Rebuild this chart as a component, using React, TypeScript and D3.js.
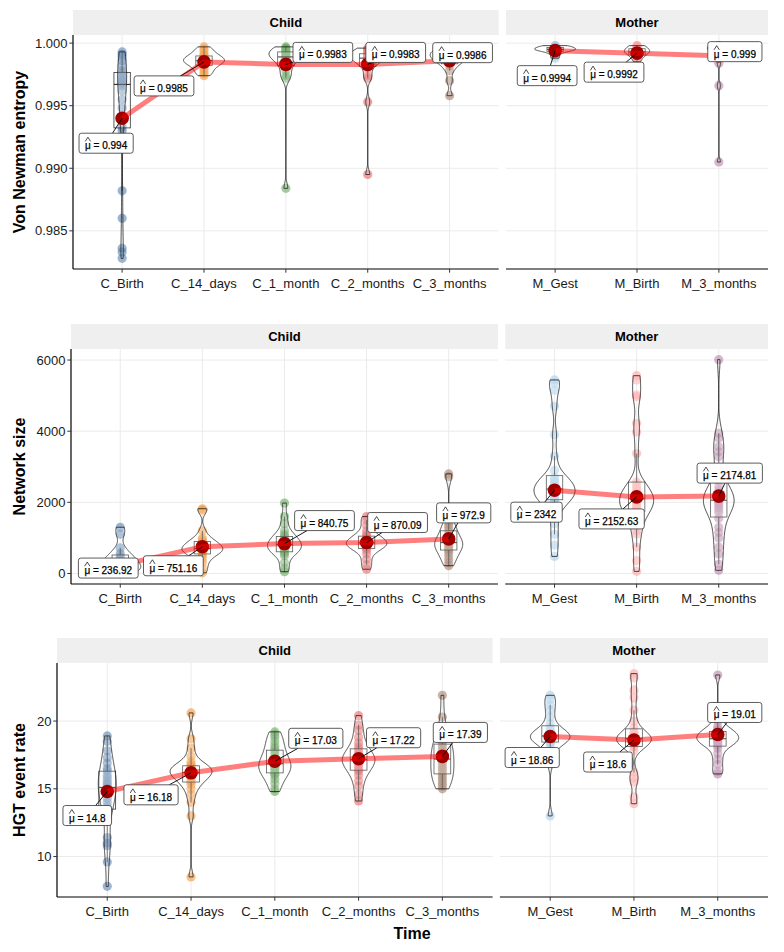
import React from 'react';
import * as d3 from 'd3';

// ---------------- DATA ----------------
const childCats = ['C_Birth', 'C_14_days', 'C_1_month', 'C_2_months', 'C_3_months'];
const motherCats = ['M_Gest', 'M_Birth', 'M_3_months'];
const facetNames = ['Child', 'Mother'];
const childColors = ['#4E79A7', '#F28E2B', '#59A14F', '#E15759', '#9C755F'];
const motherColors = ['#A0CBE8', '#FF9D9A', '#B07AA1'];

const entropyChild = [
  [0.9993, 0.9991, 0.9989, 0.9986, 0.9982, 0.9978, 0.9976, 0.9974, 0.9972, 0.997, 0.9969, 0.9968, 0.9966, 0.9962, 0.9955, 0.9948, 0.994, 0.9933, 0.993, 0.9882, 0.986, 0.9836, 0.9833, 0.9828],
  [0.9997, 0.9995, 0.9993, 0.9991, 0.999, 0.9989, 0.9988, 0.9987, 0.9986, 0.9986, 0.9985, 0.9984, 0.9983, 0.9982, 0.998, 0.9978, 0.9976, 0.9974],
  [0.9997, 0.9996, 0.9995, 0.9994, 0.9993, 0.9992, 0.9991, 0.999, 0.9989, 0.9988, 0.9987, 0.9985, 0.9982, 0.9978, 0.9974, 0.9972, 0.9884],
  [0.9996, 0.9995, 0.9994, 0.9993, 0.9992, 0.9991, 0.999, 0.999, 0.9989, 0.9988, 0.9987, 0.9986, 0.9985, 0.9983, 0.998, 0.9974, 0.9972, 0.9953, 0.9895],
  [0.9996, 0.9995, 0.9994, 0.9993, 0.9992, 0.9991, 0.999, 0.9989, 0.9988, 0.9987, 0.9986, 0.9984, 0.9982, 0.9978, 0.997, 0.9958],
];
const entropyMother = [
  [0.9998, 0.9998, 0.9997, 0.9997, 0.9996, 0.9996, 0.9995, 0.9995, 0.9995, 0.9994, 0.9994, 0.9993, 0.9992, 0.999, 0.9988],
  [0.9998, 0.9998, 0.9997, 0.9996, 0.9995, 0.9994, 0.9994, 0.9993, 0.9993, 0.9992, 0.9991, 0.999, 0.9989, 0.9987, 0.9985],
  [0.9998, 0.9998, 0.9997, 0.9997, 0.9996, 0.9996, 0.9995, 0.9994, 0.9993, 0.999, 0.9984, 0.9966, 0.9905],
];
const entropyMeans = [0.994, 0.9985, 0.9983, 0.9983, 0.9986, 0.9994, 0.9992, 0.999];
const entropyTicks = [0.985, 0.99, 0.995, 1.0];

const sizeChild = [
  [1300, 1100, 720, 560, 480, 420, 360, 300, 250, 200, 160, 120, 80, 40, 5],
  [1820, 1780, 1200, 1000, 950, 900, 850, 800, 760, 730, 700, 680, 650, 620, 580, 550, 500, 400, 300, 150, 20],
  [1980, 1600, 1400, 1200, 1100, 1050, 1000, 950, 900, 850, 820, 800, 760, 720, 680, 640, 600, 560, 500, 300, 150, 50],
  [1600, 1500, 1350, 1200, 1100, 1050, 1000, 950, 920, 890, 860, 830, 800, 770, 740, 700, 650, 550, 400, 250, 120],
  [2800, 2720, 1450, 1380, 1300, 1200, 1100, 1000, 950, 900, 870, 840, 800, 760, 700, 660, 600, 500, 400, 300, 220],
];
const sizeMother = [
  [5440, 5350, 5150, 4700, 3900, 3300, 2900, 2700, 2640, 2600, 2550, 2500, 2450, 2400, 2350, 2300, 2250, 2200, 2150, 2100, 2080, 2050, 1900, 1700, 1400, 1100, 800, 480],
  [5560, 5440, 5020, 4970, 4220, 3980, 3370, 2570, 2480, 2400, 2330, 2260, 2200, 2150, 2100, 2050, 2000, 1950, 1900, 1850, 1800, 1740, 1630, 1440, 1200, 1110, 740, 360, 60],
  [6010, 3940, 3800, 3560, 3420, 3280, 2900, 2600, 2450, 2350, 2280, 2220, 2170, 2120, 2080, 2040, 2000, 1960, 1900, 1850, 1780, 1700, 1550, 1300, 1150, 1000, 740, 550, 260, 90],
];
const sizeMeans = [236.92, 751.16, 840.75, 870.09, 972.9, 2342, 2152.63, 2174.81];
const sizeTicks = [0, 2000, 4000, 6000];

const hgtChild = [
  [18.9, 18.5, 17.8, 17.3, 16.9, 16.5, 16.3, 16.0, 15.8, 15.6, 15.4, 15.3, 15.1, 14.9, 14.6, 14.3, 14.0, 13.7, 13.5, 13.0, 11.4, 11.0, 10.8, 9.6, 7.8],
  [20.6, 18.7, 18.0, 17.4, 17.0, 16.8, 16.7, 16.6, 16.5, 16.4, 16.4, 16.3, 16.2, 16.1, 16.0, 15.9, 15.8, 15.6, 15.5, 15.3, 15.0, 14.6, 14.0, 13.0, 8.5],
  [19.2, 19.0, 18.8, 18.5, 18.2, 18.0, 17.8, 17.6, 17.4, 17.2, 17.0, 16.9, 16.8, 16.7, 16.6, 16.5, 16.4, 16.2, 16.1, 16.0, 15.7, 15.4, 15.0, 14.8],
  [20.4, 19.7, 19.3, 18.8, 18.4, 18.1, 17.9, 17.7, 17.5, 17.4, 17.3, 17.2, 17.1, 17.0, 16.9, 16.8, 16.6, 16.4, 16.3, 16.0, 15.6, 15.2, 14.6, 14.1],
  [21.9, 20.3, 19.5, 18.9, 18.6, 18.4, 18.2, 18.0, 17.8, 17.6, 17.4, 17.2, 17.0, 16.8, 16.6, 16.4, 16.2, 16.0, 15.8, 15.6, 15.4, 15.2, 15.0],
];
const hgtMother = [
  [21.9, 21.6, 21.2, 20.8, 20.3, 19.8, 19.5, 19.3, 19.2, 19.1, 19.0, 18.9, 18.9, 18.8, 18.7, 18.6, 18.5, 18.4, 18.3, 18.0, 17.5, 16.8, 13.0],
  [23.5, 23.2, 22.3, 21.7, 20.8, 20.0, 19.5, 19.2, 19.1, 19.0, 18.9, 18.8, 18.7, 18.7, 18.6, 18.5, 18.4, 18.3, 18.2, 18.1, 17.8, 16.2, 15.8, 15.5, 14.4, 13.9],
  [23.4, 20.5, 20.0, 19.6, 19.4, 19.3, 19.2, 19.1, 19.0, 18.9, 18.8, 18.7, 18.7, 18.6, 18.5, 18.4, 18.3, 18.2, 18.0, 17.6, 17.2, 16.8, 16.3, 16.1],
];
const hgtMeans = [14.8, 16.18, 17.03, 17.22, 17.39, 18.86, 18.6, 19.01];
const hgtTicks = [10, 15, 20];

const yTitles = ['Von Newman entropy', 'Network size', 'HGT event rate'];
const xTitle = 'Time';

// ---------------- LAYOUT (not data) ----------------
const W = 784;
const H = 952;
const FONT = '"Liberation Sans", Arial, Helvetica, sans-serif';
const PANEL_RIGHT = 768;
const GAP = 7.3;
const rowLayout = [
  { stripTop: 10, top: 35, bottom: 269, axisX: 73 },
  { stripTop: 324, top: 349, bottom: 584, axisX: 71 },
  { stripTop: 638, top: 663, bottom: 897, axisX: 57 },
];
// label box centre offsets (px) from each mean point
const labelOffsets = [
  [[-16, 25], [-40, 24], [37, -12], [28, -12], [13, -8], [-8, 25], [-23, 19], [16, -4]],
  [[-12, 3], [-29, 19], [40, -23], [31, -20], [15, -26], [-18, 22], [-25, 22], [11, -23]],
  [[-20, 24], [-40, 22], [41, -23], [35, -21], [18, -24], [-18, 21], [-26, 22], [17, -22]],
];

// ---------------- HELPERS ----------------
function kde(values: number[]) {
  const s = values.slice().sort(d3.ascending);
  const n = s.length;
  const sd = d3.deviation(s) || 0;
  const iqr = (d3.quantile(s, 0.75) as number) - (d3.quantile(s, 0.25) as number);
  let lo = Math.min(sd, iqr / 1.34);
  if (!(lo > 0)) lo = sd || 1;
  const bw = 0.9 * lo * Math.pow(n, -0.2);
  const mn = s[0];
  const mx = s[n - 1];
  const N = 256;
  const out: [number, number][] = [];
  for (let i = 0; i < N; i++) {
    const y = mn + ((mx - mn) * i) / (N - 1);
    let sum = 0;
    for (const v of s) {
      const u = (y - v) / bw;
      sum += Math.exp(-0.5 * u * u);
    }
    out.push([y, sum / (n * bw * Math.sqrt(2 * Math.PI))]);
  }
  return out;
}

function boxStats(values: number[]) {
  const s = values.slice().sort(d3.ascending);
  const q1 = d3.quantile(s, 0.25) as number;
  const med = d3.quantile(s, 0.5) as number;
  const q3 = d3.quantile(s, 0.75) as number;
  const iqr = q3 - q1;
  const lo = d3.min(s.filter((v) => v >= q1 - 1.5 * iqr)) as number;
  const hi = d3.max(s.filter((v) => v <= q3 + 1.5 * iqr)) as number;
  return { q1, med, q3, lo, hi };
}

function charW(c: string) {
  if (c === '.' || c === ' ') return 0.278;
  if (c === '=') return 0.584;
  if (c === 'μ') return 0.576;
  return 0.556;
}

function MeanLabel({ px, py, cx, cy, value }: { px: number; py: number; cx: number; cy: number; value: number }) {
  const fs = 10;
  const txt = `μ = ${value}`;
  const tw = txt.split('').reduce((a, c) => a + charW(c), 0) * fs;
  const bw = tw + 12;
  const bh = 20;
  const dx = cx - px;
  const dy = cy - py;
  const k = Math.min(Math.abs(dx) > 0 ? bw / 2 / Math.abs(dx) : Infinity, Math.abs(dy) > 0 ? bh / 2 / Math.abs(dy) : Infinity);
  const ex = k < 1 ? cx - dx * k : px;
  const ey = k < 1 ? cy - dy * k : py;
  const x0 = cx - tw / 2;
  const base = cy + 6;
  const mw = 0.576 * fs;
  return (
    <g>
      <line x1={px} y1={py} x2={ex} y2={ey} stroke="#000" strokeWidth={0.9} />
      <rect x={cx - bw / 2} y={cy - bh / 2} width={bw} height={bh} rx={2.5} fill="#fff" stroke="#333" strokeWidth={0.8} />
      <path d={`M${x0 + 0.2},${cy - 1.8} L${x0 + mw / 2},${cy - 6} L${x0 + mw - 0.2},${cy - 1.8}`} fill="none" stroke="#000" strokeWidth={0.7} />
      <text x={x0} y={base} fontSize={fs} fill="#000" stroke="#000" strokeWidth={0.25} fontFamily={FONT}>{txt}</text>
    </g>
  );
}

type PanelSpec = {
  cats: string[];
  data: number[][];
  means: number[];
  colors: string[];
  left: number;
  right: number;
  name: string;
  offsets: number[][];
  showY: boolean;
};

function Panel({ p, y, layout, ticks, fmt }: { p: PanelSpec; y: d3.ScaleLinear<number, number>; layout: any; ticks: number[]; fmt: (v: number) => string }) {
  const x = d3.scalePoint<string>().domain(p.cats).range([p.left, p.right]).padding(0.6);
  const step = x.step();
  const dens = p.data.map(kde);
  const maxD = d3.max(dens.flat(), (d) => d[1]) as number;
  const halfMax = (0.5 * step) / 2;
  const boxHalf = (0.2 * step) / 2;
  const area = (cx: number) =>
    d3
      .area<[number, number]>()
      .y((d) => y(d[0]))
      .x0((d) => cx - (d[1] / maxD) * halfMax)
      .x1((d) => cx + (d[1] / maxD) * halfMax);
  const meanPts = p.cats.map((c, i) => [x(c) as number, y(p.means[i])] as [number, number]);
  const line = d3.line();
  const { top, bottom, stripTop } = layout;
  return (
    <g>
      {/* strip */}
      <rect x={p.left} y={stripTop} width={p.right - p.left} height={top - stripTop} fill="#efefef" />
      <text x={(p.left + p.right) / 2} y={(stripTop + top) / 2 + 4.5} textAnchor="middle" fontSize={13} fontWeight="bold" fill="#000">
        {p.name}
      </text>
      {/* grid */}
      {ticks.map((t) => (
        <line key={'gy' + t} x1={p.left} x2={p.right} y1={y(t)} y2={y(t)} stroke="#ebebeb" strokeWidth={1} />
      ))}
      {p.cats.map((c) => (
        <line key={'gx' + c} x1={x(c)} x2={x(c)} y1={top} y2={bottom} stroke="#ebebeb" strokeWidth={1} />
      ))}
      {/* points */}
      {p.data.map((vals, i) =>
        vals.map((v, j) => <circle key={`p${i}-${j}`} cx={x(p.cats[i])} cy={y(v)} r={4.6} fill={p.colors[i]} fillOpacity={0.55} />)
      )}
      {/* boxplots */}
      {p.data.map((vals, i) => {
        const b = boxStats(vals);
        const cx = x(p.cats[i]) as number;
        return (
          <g key={'b' + i} stroke="#333" strokeWidth={0.8}>
            <line x1={cx} x2={cx} y1={y(b.q3)} y2={y(b.hi)} />
            <line x1={cx} x2={cx} y1={y(b.q1)} y2={y(b.lo)} />
            <rect x={cx - boxHalf} width={boxHalf * 2} y={y(b.q3)} height={Math.max(0.5, y(b.q1) - y(b.q3))} fill="#fff" fillOpacity={0.2} />
            <line x1={cx - boxHalf} x2={cx + boxHalf} y1={y(b.med)} y2={y(b.med)} strokeWidth={1.2} />
          </g>
        );
      })}
      {/* violins */}
      {dens.map((d, i) => (
        <path key={'v' + i} d={area(x(p.cats[i]) as number)(d) || ''} fill="#fff" fillOpacity={0.2} stroke="#1a1a1a" strokeWidth={0.8} />
      ))}
      {/* mean points */}
      {meanPts.map((m, i) => (
        <circle key={'m' + i} cx={m[0]} cy={m[1]} r={6.8} fill="#9e0000" />
      ))}
      <path d={line(meanPts) || ''} fill="none" stroke="#ff0000" strokeOpacity={0.5} strokeWidth={5} />
      {meanPts.map((m, i) => (
        <MeanLabel key={'l' + i} px={m[0]} py={m[1]} cx={m[0] + p.offsets[i][0]} cy={m[1] + p.offsets[i][1]} value={p.means[i]} />
      ))}
      {/* x axis */}
      <line x1={p.left} x2={p.right} y1={bottom} y2={bottom} stroke="#000" strokeWidth={1.2} />
      {p.cats.map((c) => (
        <g key={'xt' + c}>
          <line x1={x(c)} x2={x(c)} y1={bottom} y2={bottom + 3.7} stroke="#333" strokeWidth={1} />
          <text x={x(c)} y={bottom + 18.5} textAnchor="middle" fontSize={13} fill="#1a1a1a">
            {c}
          </text>
        </g>
      ))}
      {p.showY && (
        <g>
          <line x1={p.left} x2={p.left} y1={top} y2={bottom} stroke="#000" strokeWidth={1.2} />
          {ticks.map((t) => (
            <g key={'yt' + t}>
              <line x1={p.left - 3.7} x2={p.left} y1={y(t)} y2={y(t)} stroke="#333" strokeWidth={1} />
              <text x={p.left - 5.5} y={y(t)} dy="0.35em" textAnchor="end" fontSize={13} fill="#1a1a1a">
                {fmt(t)}
              </text>
            </g>
          ))}
        </g>
      )}
    </g>
  );
}

function Row({ idx, child, mother, means, ticks, fmt }: { idx: number; child: number[][]; mother: number[][]; means: number[]; ticks: number[]; fmt: (v: number) => string }) {
  const L = rowLayout[idx];
  const all = [...child.flat(), ...mother.flat()];
  const [mn, mx] = d3.extent(all) as [number, number];
  const pad = (mx - mn) * 0.05;
  const y = d3.scaleLinear().domain([mn - pad, mx + pad]).range([L.bottom, L.top]);
  const total = PANEL_RIGHT - L.axisX - GAP;
  const unitsC = childCats.length + 0.2;
  const unitsM = motherCats.length + 0.2;
  const childRight = L.axisX + (total * unitsC) / (unitsC + unitsM);
  const panels: PanelSpec[] = [
    { cats: childCats, data: child, means: means.slice(0, 5), colors: childColors, left: L.axisX, right: childRight, name: facetNames[0], offsets: labelOffsets[idx].slice(0, 5), showY: true },
    { cats: motherCats, data: mother, means: means.slice(5), colors: motherColors, left: childRight + GAP, right: PANEL_RIGHT, name: facetNames[1], offsets: labelOffsets[idx].slice(5), showY: false },
  ];
  const midY = (L.top + L.bottom) / 2;
  return (
    <g>
      {panels.map((p, i) => (
        <Panel key={i} p={p} y={y} layout={L} ticks={ticks} fmt={fmt} />
      ))}
      <text transform={`translate(25,${midY}) rotate(-90)`} textAnchor="middle" fontSize={16} fontWeight="bold" fill="#000">
        {yTitles[idx]}
      </text>
    </g>
  );
}

export default function App() {
  return (
    <svg width={W} height={H} style={{ position: 'absolute', left: 0, top: 0, background: '#fff' }} fontFamily={FONT}>
      <rect width={W} height={H} fill="#fff" />
      <Row idx={0} child={entropyChild} mother={entropyMother} means={entropyMeans} ticks={entropyTicks} fmt={d3.format('.3f')} />
      <Row idx={1} child={sizeChild} mother={sizeMother} means={sizeMeans} ticks={sizeTicks} fmt={d3.format('d')} />
      <Row idx={2} child={hgtChild} mother={hgtMother} means={hgtMeans} ticks={hgtTicks} fmt={d3.format('d')} />
      <text x={412} y={939} textAnchor="middle" fontSize={16} fontWeight="bold" fill="#000">
        {xTitle}
      </text>
    </svg>
  );
}
